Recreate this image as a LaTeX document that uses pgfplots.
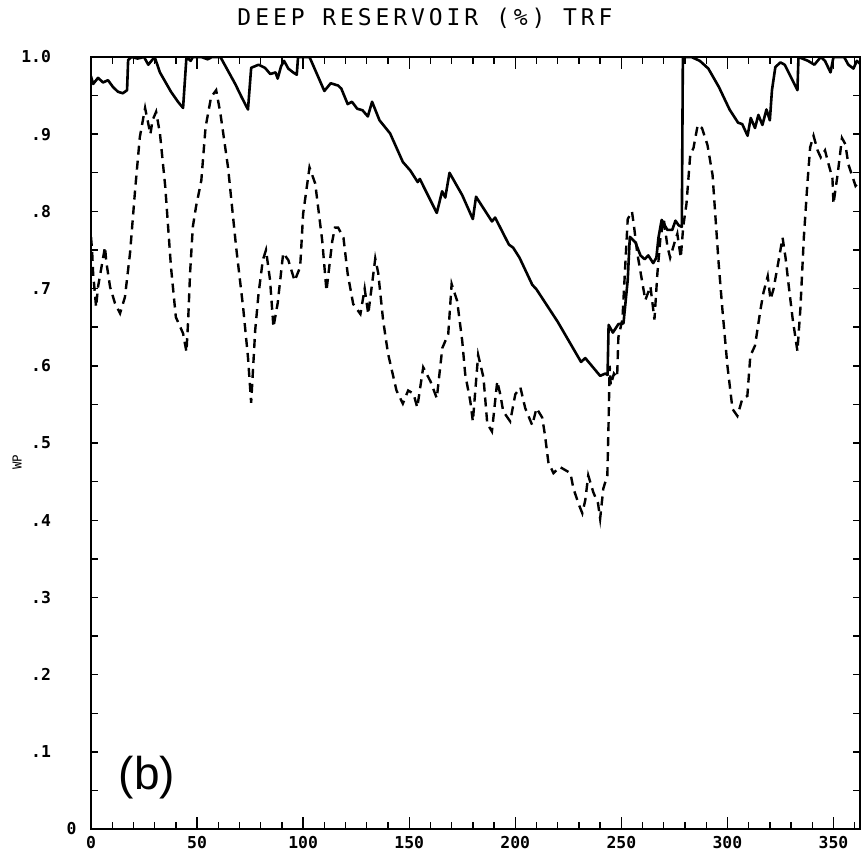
\documentclass[border=0pt]{standalone}
\usepackage{fontspec}
\setmainfont{DejaVu Sans Mono}
\setmonofont{DejaVu Sans Mono}
\newfontfamily\titlefont[LetterSpace=17]{DejaVu Sans Mono}
\newfontfamily\bfont{Liberation Sans}
\usepackage{pgfplots}
\pgfplotsset{compat=1.18}

\pgfplotstableread{
x y
0 0.975
1 0.965
3.3 0.973
5.7 0.967
8 0.970
10.4 0.961
12.7 0.955
15 0.953
17 0.957
17.5 0.996
19 1.0
22 0.998
25 1.0
27 0.99
28.5 0.995
30 1.0
32.5 0.98
35 0.968
37.7 0.955
41 0.942
43.4 0.934
45 1.0
47 0.995
48 1.0
52 1.0
55 0.997
57 1.0
61 1.0
64 0.985
68 0.965
71 0.948
74 0.932
75.5 0.986
79 0.99
82 0.986
84.5 0.978
87 0.98
88 0.972
89.6 0.988
91 0.995
93 0.985
95.3 0.98
97 0.977
97.6 1.0
103 1.0
110 0.956
113 0.966
116.5 0.963
118 0.959
121 0.939
123 0.942
125.5 0.933
128 0.931
130.5 0.923
132.5 0.942
136 0.918
141 0.901
147 0.864
150.5 0.853
154 0.838
155 0.842
163 0.798
165.5 0.826
167 0.818
169 0.850
175 0.821
180 0.790
181.5 0.819
189 0.787
190.5 0.792
197 0.757
199 0.753
202 0.740
208 0.705
210 0.699
220 0.657
231 0.605
233 0.610
240 0.587
242.5 0.590
243.5 0.588
244 0.653
246 0.643
248.6 0.654
251 0.655
253 0.711
254 0.767
256.6 0.760
259 0.743
261 0.738
262.7 0.743
265 0.733
266.5 0.740
267.5 0.766
269 0.789
271.7 0.776
274 0.776
275.5 0.788
277 0.782
278.5 0.780
279 1.0
283 1.0
287 0.995
291 0.985
296 0.961
301 0.932
305 0.915
307 0.913
309.5 0.898
311 0.921
313 0.908
314.6 0.925
316.5 0.912
318.4 0.932
320 0.918
321 0.957
322.6 0.987
325 0.993
327 0.99
333 0.957
333.5 1.0
338 0.995
341 0.99
344 1.0
346 0.995
348.6 0.98
350 1.0
355 1.0
357 0.99
359.4 0.985
361 0.995
363 0.99
}\solid

\pgfplotstableread{
x y
0 0.767
0.5 0.75
1 0.72
2.4 0.676
3.3 0.702
4.7 0.724
6.6 0.754
7.2 0.735
9 0.702
11.3 0.681
13.7 0.668
16 0.689
18.4 0.746
20.8 0.828
23 0.896
25.5 0.934
28 0.900
29 0.918
30.7 0.929
32.5 0.901
35 0.832
37.7 0.728
40 0.663
43.4 0.642
45 0.618
45.8 0.659
46.7 0.720
48 0.780
49.5 0.806
52 0.840
54 0.909
56.6 0.948
59 0.957
61 0.927
64.6 0.857
68.4 0.754
71.7 0.676
74 0.611
75.5 0.552
77.4 0.646
79 0.694
81 0.737
82.5 0.750
84.4 0.711
86 0.650
88 0.681
90.6 0.746
93 0.737
96 0.710
98.6 0.728
100 0.797
103 0.857
105.7 0.836
109 0.762
111 0.697
113.7 0.761
115 0.779
116.5 0.779
119 0.766
121 0.719
123.6 0.680
127 0.667
129 0.700
130.7 0.667
134 0.739
135.4 0.720
137.7 0.659
140 0.616
144 0.568
147 0.551
149.5 0.568
152 0.564
153.8 0.546
156.6 0.598
160 0.580
163 0.558
165.6 0.623
168.4 0.641
170 0.706
172.6 0.684
175 0.632
176.4 0.589
178.8 0.554
180 0.528
182.5 0.614
185 0.585
186.8 0.525
189 0.515
191.5 0.580
193 0.562
194.3 0.541
197.6 0.528
200 0.563
202.4 0.572
204.7 0.545
208 0.523
210 0.545
212.7 0.533
214 0.510
215.6 0.475
218 0.461
221 0.469
226 0.461
227.4 0.441
230 0.420
231.6 0.409
233 0.426
234.4 0.458
236.8 0.436
239 0.422
240 0.402
241.5 0.441
243.4 0.458
244 0.53
244.5 0.60
245 0.575
246.5 0.59
248 0.585
248.6 0.637
250.5 0.660
253 0.790
255 0.80
256 0.78
257.5 0.746
260 0.706
261.3 0.685
263.7 0.703
265.6 0.660
267 0.720
268.4 0.765
270 0.790
271.7 0.755
273 0.740
275 0.759
276.4 0.771
278 0.740
279.2 0.781
280.7 0.81
282.5 0.874
284 0.882
286 0.912
288 0.908
290.6 0.886
293 0.847
294.3 0.795
295.8 0.735
297.6 0.674
300 0.600
302.4 0.544
304.7 0.535
307 0.557
309.4 0.561
310.8 0.613
313 0.626
315.6 0.673
317 0.695
319 0.716
320.3 0.686
321.7 0.699
323.6 0.728
326 0.766
327.4 0.740
328.8 0.706
330.7 0.662
333 0.619
334.4 0.674
336 0.765
337.7 0.836
339 0.883
340.6 0.898
342.5 0.879
344 0.870
346 0.879
347.6 0.862
349.5 0.843
350 0.81
352 0.849
354 0.895
355.6 0.887
357 0.861
360.4 0.833
362.7 0.840
}\dashed

\begin{document}
\begin{tikzpicture}
\useasboundingbox (-45.5pt,-14.5pt) rectangle (385pt,414.5pt);
\begin{axis}[
  scale only axis,
  width=384.5pt, height=386pt,
  xmin=0, xmax=362.5, ymin=0, ymax=1,
  axis line style={line width=0.8pt},
  tick style={line width=0.7pt, black},
  tick align=inside,
  major tick length=6pt,
  minor tick length=3.5pt,
  xtick={0,50,100,150,200,250,300,350},
  xticklabels={0,50,100,150,200,250,300,350},
  minor xtick={10,20,30,40,60,70,80,90,110,120,130,140,160,170,180,190,210,220,230,240,260,270,280,290,310,320,330,340,360},
  ytick={0,0.1,0.2,0.3,0.4,0.5,0.6,0.7,0.8,0.9,1.0},
  yticklabels={0\hspace*{-15pt},.1,.2,.3,.4,.5,.6,.7,.8,.9,1.0},
  minor ytick={0,0.05,0.1,0.15,0.2,0.25,0.3,0.35,0.4,0.45,0.5,0.55,0.6,0.65,0.7,0.75,0.8,0.85,0.9,0.95,1.0},
  major y tick style={draw=none},
  ticklabel style={font=\ttfamily\bfseries\fontsize{8.2}{9}\selectfont},
  yticklabel style={xshift=-16.5pt},
  /pgf/number format/assume math mode=true,
]
\addplot[black, line width=1.3pt, line join=round] table[x=x,y=y] {\solid};
\addplot[black, line width=1.2pt, dash pattern=on 4.5pt off 3pt] table[x=x,y=y] {\dashed};
\end{axis}
\node[font=\titlefont\fontsize{11.5}{13}\selectfont] at (167pt,405.5pt) {DEEP RESERVOIR (\%) TRF};
\node[rotate=90, font=\ttfamily\fontsize{6.2}{7}\selectfont] at (-37pt,183.5pt) {WP};
\node[font=\bfont\fontsize{23}{26}\selectfont] at (28pt,25.5pt) {(b)};
\end{tikzpicture}
\end{document}
